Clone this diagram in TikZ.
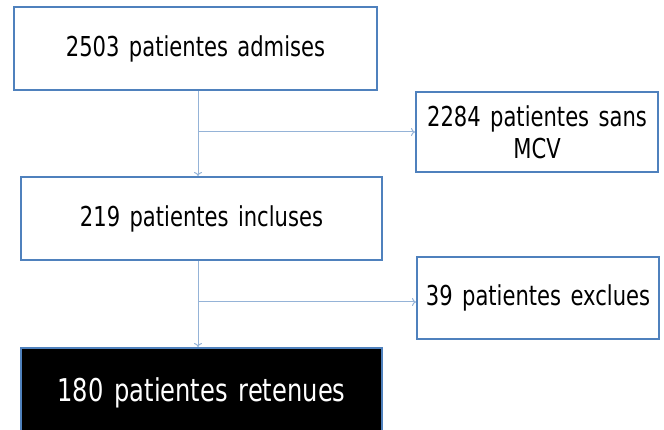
\documentclass[tikz,border=0pt]{standalone}
\usepackage{fontspec}
\setmainfont[FakeStretch=0.77,WordSpace=1.4]{DejaVu Sans}
\usepackage{xcolor}
\usepackage{tikz}
\usetikzlibrary{arrows.meta}
\definecolor{boxblue}{RGB}{79,129,189}
\definecolor{lineblue}{RGB}{149,179,215}

\begin{document}
\begin{tikzpicture}[x=1pt,y=-1pt,
		box/.style={shape=rectangle,draw=boxblue,line width=2pt,inner sep=0pt,align=center,font=\fontsize{27.4}{32}\selectfont},
		conn/.style={draw=lineblue,line width=1pt,-{To[length=4pt,width=8pt]}}]
			\useasboundingbox (0,0) rectangle (664,430);
			\node[box, minimum width=363pt, minimum height=83pt] (admises) at (195.5,48.5) {2503 patientes admises};
			\node[box, minimum width=242pt, minimum height=80pt] (sansmcv) at (537,132) {2284 patientes sans\\MCV};
			\node[box, minimum width=361pt, minimum height=83pt] (incluses) at (201.5,218.5) {219 patientes incluses};
			\node[box, minimum width=242pt, minimum height=82pt] (exclues) at (538,298) {39 patientes exclues};
			\node[box, fill=black, text=white, minimum width=361pt, minimum height=90pt, font=\fontsize{31.4}{36}\selectfont] (retenues) at (201.5,393) {180 patientes retenues};

			\coordinate (b1) at (198,132);
			\coordinate (b2) at (198,302);

			%% lines
			\draw[conn] (admises.south -| b1) -- (incluses.north -| b1);
			\draw[conn] (b1) -- (sansmcv.west);
			\draw[conn] (incluses.south -| b2) -- (retenues.north -| b2);
			\draw[conn] (b2) -- (exclues.west |- b2);
		\end{tikzpicture}
\end{document}
